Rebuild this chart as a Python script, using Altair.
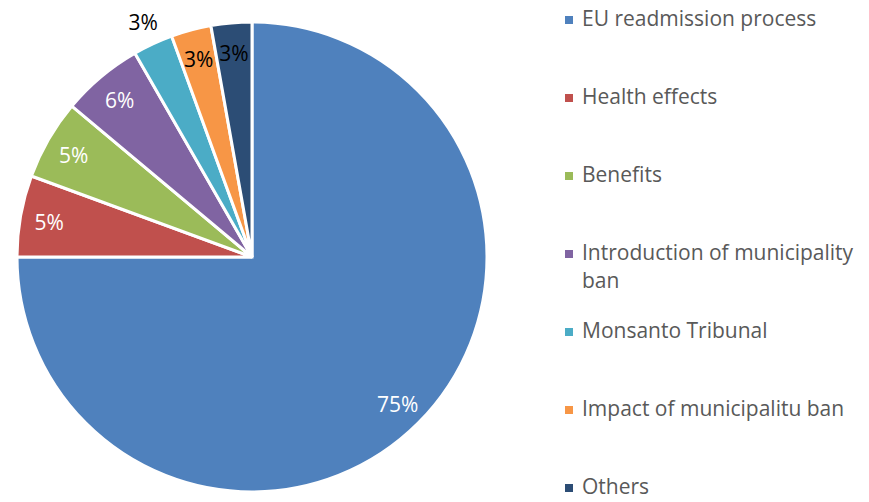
import altair as alt
import pandas as pd

categories = ["EU readmission process", "Health effects", "Benefits",
              "Introduction of municipality ban", "Monsanto Tribunal",
              "Impact of municipalitu ban", "Others"]
values = [75.0, 5.6, 5.5, 5.6, 2.75, 2.75, 2.8]
labels = ["75%", "5%", "5%", "6%", "3%", "3%", "3%"]
legend_text = [["EU readmission process"], ["Health effects"], ["Benefits"],
               ["Introduction of municipality", "ban"], ["Monsanto Tribunal"],
               ["Impact of municipalitu ban"], ["Others"]]
colors = ["#4F81BD", "#C0504D", "#9BBB59", "#8064A2", "#4BACC6", "#F79646", "#2C4D75"]
inside = [True, True, True, True, False, True, True]
dark_label = [False, False, False, False, True, True, True]

df = pd.DataFrame({
    "cat": categories, "val": values, "label": labels, "idx": list(range(7)),
    "inside": inside, "dark": dark_label,
    "legend": ["\n".join(t) for t in legend_text],
})

FONT = "Open Sans"
FS = 21
CX, CY, R = 244, 249, 235

color = alt.Color("cat:N", scale=alt.Scale(domain=categories, range=colors), legend=None)

base = alt.Chart(df)

arcs = base.mark_arc(radius=R, stroke="white", strokeWidth=3).encode(
    theta=alt.Theta("val:Q", stack=True),
    order=alt.Order("idx:Q"),
    color=color,
    x=alt.value(CX), y=alt.value(CY),
)

stacked = base.transform_window(
    cum="sum(val)", sort=[alt.SortField("idx")]
).transform_calculate(
    mid="datum.cum - datum.val / 2"
)
theta_scale = alt.Scale(domain=[0, 100], range=[0, 6.283185307])

txt_in = stacked.transform_filter("datum.inside").mark_text(
    radius=206, font=FONT, fontSize=FS, dy=3).encode(
    theta=alt.Theta("mid:Q", scale=theta_scale),
    text="label:N",
    color=alt.condition("datum.dark", alt.value("#000000"), alt.value("#ffffff")),
    x=alt.value(CX), y=alt.value(CY),
)

txt_out = stacked.transform_filter("!datum.inside").mark_text(
    radius=258, font=FONT, fontSize=FS, dy=1).encode(
    theta=alt.Theta("mid:Q", scale=theta_scale),
    text="label:N",
    color=alt.value("#000000"),
    x=alt.value(CX), y=alt.value(CY),
)

ypos = alt.Y("cat:N", sort=categories, axis=None,
             scale=alt.Scale(range=[12, 480], padding=0))

leg_sym = base.mark_point(shape="square", filled=True, size=64, opacity=1).encode(
    y=ypos, x=alt.value(561), color=color,
)
leg_txt = base.mark_text(align="left", baseline="line-top", lineHeight=28, dy=-14,
                         font=FONT, fontSize=FS, color="#595959", lineBreak="\n").encode(
    y=ypos, x=alt.value(574), text="legend:N",
)

chart = alt.layer(arcs, txt_in, txt_out, leg_sym, leg_txt).properties(
    width=853, height=486,
    autosize=alt.AutoSizeParams(type="none"),
    padding={"left": 0, "top": 0, "right": 0, "bottom": 0},
).configure_view(stroke=None)

chart.save("out.html", embed_options={"renderer": "svg", "actions": False})
